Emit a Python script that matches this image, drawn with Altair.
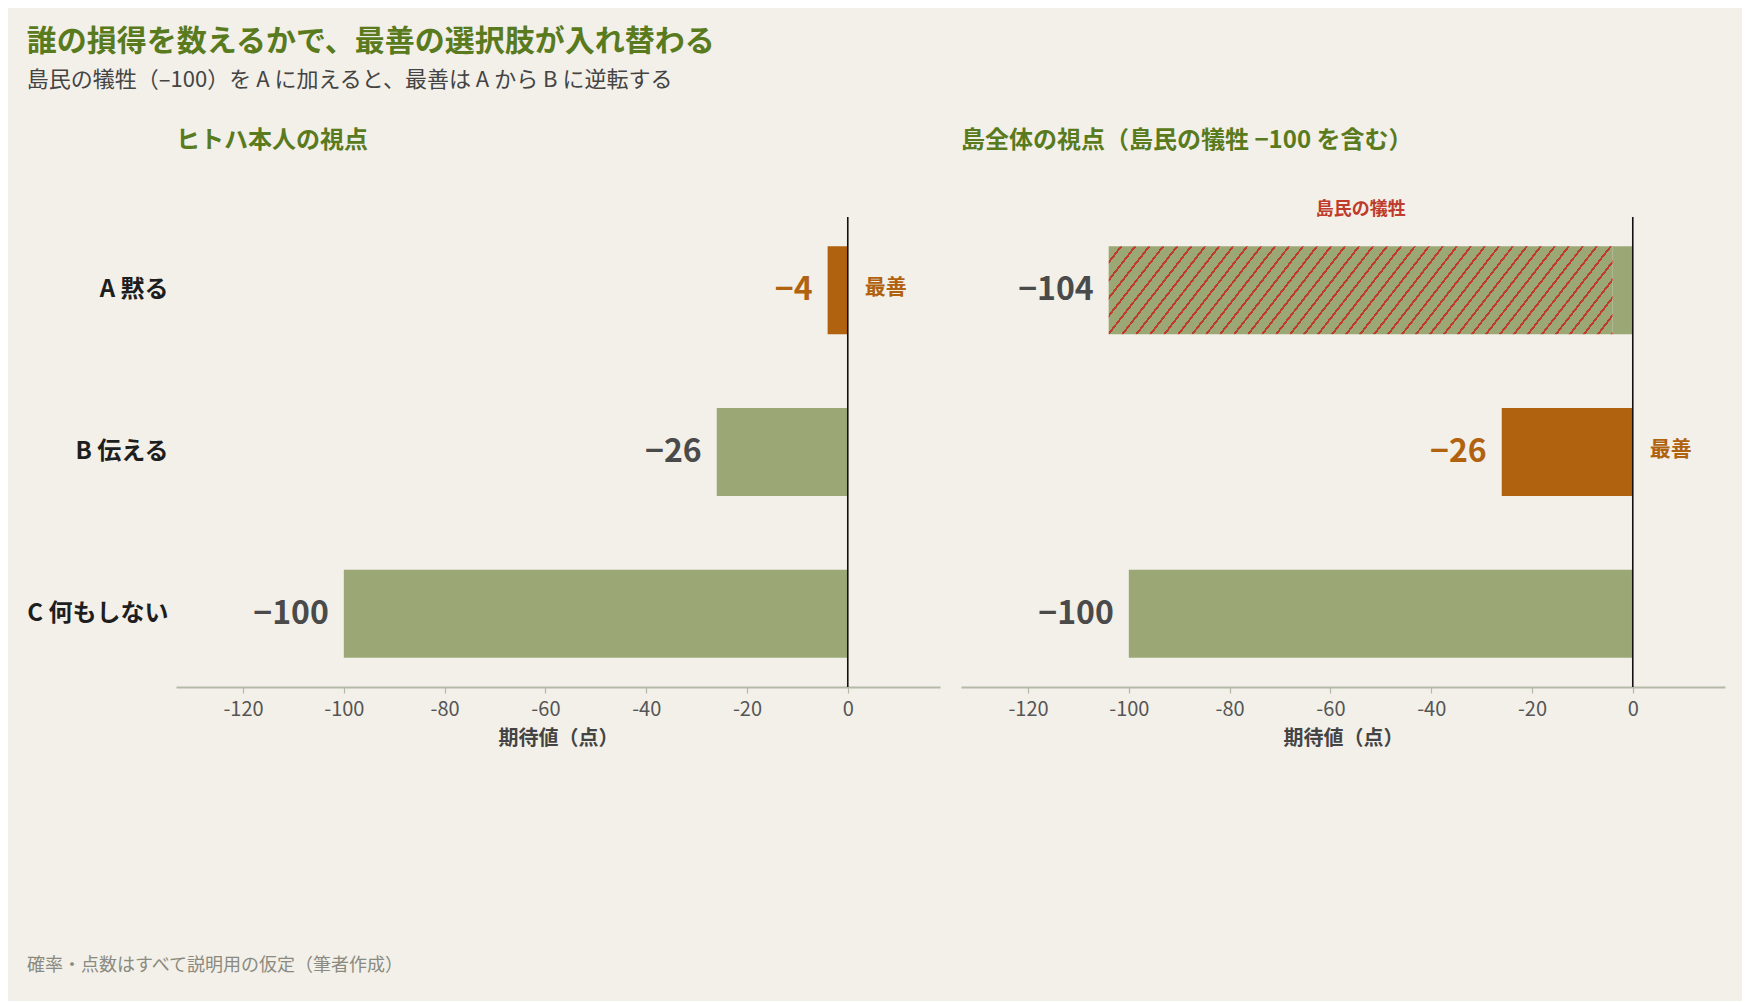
import math
import altair as alt
import pandas as pd

# ---------------- data ----------------
options = ["A 黙る", "B 伝える", "C 何もしない"]
self_value = [-4, -26, -100]          # ヒトハ本人の期待値
island_cost = [-100, 0, 0]            # 島民の犠牲
tick_values = [-120, -100, -80, -60, -40, -20, 0]

title_text = "誰の損得を数えるかで、最善の選択肢が入れ替わる"
subtitle_text = "島民の犠牲（–100）を A に加えると、最善は A から B に逆転する"
left_title = "ヒトハ本人の視点"
right_title = "島全体の視点（島民の犠牲 −100 を含む）"
x_title = "期待値（点）"
best_text = "最善"
cost_text = "島民の犠牲"
footer_text = "確率・点数はすべて説明用の仮定（筆者作成）"

# ---------------- styles ----------------
FONT = "Noto Sans CJK JP"
BG = "#F2F0E9"
GREEN_BAR = "#9BA876"
ORANGE = "#B0620F"
TITLE_GREEN = "#5A7A1E"
RED = "#BF3B2C"
GRAY_LABEL = "#4A4A4A"
AXIS_LINE = "#B4B9A8"
W, H = 764, 470
DOMAIN = [-133.3, 18.3]


def minus(v):
    return "−" + str(abs(v)) if v < 0 else str(v)


total_value = [s + c for s, c in zip(self_value, island_cost)]
best_self = max(self_value)
best_total = max(total_value)

df_left = pd.DataFrame({
    "option": options,
    "value": self_value,
    "label": [minus(v) for v in self_value],
    "best": [v == best_self for v in self_value],
})
df_right = pd.DataFrame({
    "option": options,
    "self": self_value,
    "total": total_value,
    "cost": island_cost,
    "label": [minus(v) for v in total_value],
    "best": [v == best_total for v in total_value],
})
df_zero = pd.DataFrame({"x": [0]})

# hatch pattern as a striped linear gradient (diagonal "/")
seg_w, seg_h = 503.0, 88.0
theta = math.radians(52)
U = seg_w * math.sin(theta) + seg_h * math.cos(theta)
a = seg_w * math.sin(theta) / U
b = seg_h * math.cos(theta) / U
gx, gy = a / (a * a + b * b), b / (a * a + b * b)
period = 11.0 / U
line = 2.0 / U
stops = []
k = 0
while k * period < 1.0:
    s0 = k * period
    stops += [
        alt.GradientStop(offset=min(s0, 1), color=GREEN_BAR),
        alt.GradientStop(offset=min(s0 + period - line, 1), color=GREEN_BAR),
        alt.GradientStop(offset=min(s0 + period - line, 1), color=RED),
        alt.GradientStop(offset=min(s0 + period, 1), color=RED),
    ]
    k += 1
hatch = alt.LinearGradient(gradient="linear", stops=stops, x1=0, y1=0, x2=gx, y2=gy)

y_scale = alt.Scale(domain=options, paddingInner=0.456, paddingOuter=0.18)
x_scale = alt.Scale(domain=DOMAIN, nice=False, zero=False)
x_axis = alt.Axis(
    values=tick_values, title=x_title, grid=False,
    labelExpr="datum.value + ''",
    domainColor=AXIS_LINE, domainWidth=2, tickColor=AXIS_LINE, tickSize=6, tickWidth=1.2,
    labelFont=FONT, labelFontSize=20, labelColor="#555555", labelPadding=6,
    titleFont=FONT, titleFontSize=20, titleFontWeight="bold", titleColor="#444444",
    titlePadding=9,
)
bar_color = alt.condition("datum.best", alt.value(ORANGE), alt.value(GREEN_BAR))
text_color = alt.condition("datum.best", alt.value(ORANGE), alt.value(GRAY_LABEL))
VAL_SIZE = 32

# ---------------- left panel ----------------
lb = alt.Chart(df_left)
left_bars = lb.mark_bar().encode(
    y=alt.Y("option:N", sort=options, scale=y_scale,
            axis=alt.Axis(title=None, domain=False, ticks=False, labelPadding=8,
                          labelFont=FONT, labelFontSize=24, labelFontWeight="bold",
                          labelColor="#1E1E1E")),
    x=alt.X("value:Q", scale=x_scale, axis=x_axis),
    x2=alt.X2(datum=0),
    color=bar_color,
)
left_labels = lb.mark_text(align="right", baseline="middle", dx=-15, font=FONT,
                           fontSize=VAL_SIZE, fontWeight="bold").encode(
    y=alt.Y("option:N", sort=options),
    x=alt.X("value:Q"),
    text="label:N",
    color=text_color,
)
left_best = lb.mark_text(align="left", baseline="middle", dx=17, dy=-2, font=FONT,
                         fontSize=21, fontWeight="bold", color=ORANGE).encode(
    y=alt.Y("option:N", sort=options),
    x=alt.X(datum=0),
    text=alt.value(best_text),
).transform_filter("datum.best")
left_ghost = lb.mark_text(align="center", baseline="middle", dy=-80, font=FONT,
                          fontSize=18, fontWeight="bold", opacity=0).encode(
    y=alt.Y("option:N", sort=options),
    x=alt.X(datum=-54),
    text=alt.value(cost_text),
).transform_filter(alt.datum.option == options[0])
zero_rule = alt.Chart(df_zero).mark_rule(color="#111111", strokeWidth=1.6).encode(x="x:Q")

PANEL_TITLE = dict(anchor="start", frame="group", font=FONT, fontSize=24,
                   fontWeight="bold", color=TITLE_GREEN, offset=48)

left = alt.layer(left_bars, zero_rule, left_labels, left_best, left_ghost).properties(
    width=W, height=H, title=alt.TitleParams(left_title, **PANEL_TITLE),
)

# ---------------- right panel ----------------
rb = alt.Chart(df_right)
right_bars = rb.mark_bar().encode(
    y=alt.Y("option:N", sort=options, scale=y_scale, axis=None),
    x=alt.X("self:Q", scale=x_scale, axis=x_axis),
    x2=alt.X2(datum=0),
    color=bar_color,
)
right_hatch = rb.mark_bar(fill=hatch).encode(
    y=alt.Y("option:N", sort=options),
    x=alt.X("total:Q"),
    x2=alt.X2("self:Q"),
).transform_filter("datum.cost != 0")
right_labels = rb.mark_text(align="right", baseline="middle", dx=-15, font=FONT,
                            fontSize=VAL_SIZE, fontWeight="bold").encode(
    y=alt.Y("option:N", sort=options),
    x=alt.X("total:Q"),
    text="label:N",
    color=text_color,
)
right_best = rb.mark_text(align="left", baseline="middle", dx=17, dy=-2, font=FONT,
                          fontSize=21, fontWeight="bold", color=ORANGE).encode(
    y=alt.Y("option:N", sort=options),
    x=alt.X(datum=0),
    text=alt.value(best_text),
).transform_filter("datum.best")
right_cost = rb.transform_filter("datum.cost != 0").transform_calculate(
    mid="(datum.total + datum.self) / 2"
).mark_text(align="center", baseline="middle", dy=-80, font=FONT,
            fontSize=18, fontWeight="bold", color=RED).encode(
    y=alt.Y("option:N", sort=options),
    x=alt.X("mid:Q"),
    text=alt.value(cost_text),
)

right = alt.layer(right_bars, right_hatch, zero_rule, right_labels, right_best, right_cost).properties(
    width=W, height=H, title=alt.TitleParams(right_title, **PANEL_TITLE),
)

panels = alt.hconcat(left, right, spacing=21)

footer = alt.Chart(pd.DataFrame({"t": [footer_text]})).mark_text(
    align="left", baseline="middle", font=FONT, fontSize=18, color="#8A8A80"
).encode(x=alt.value(-149), y=alt.value(5), text="t:N").properties(width=10, height=10)

chart = alt.vconcat(panels, footer, spacing=209).properties(
    title=alt.TitleParams(
        title_text, subtitle=subtitle_text, anchor="start",
        font=FONT, fontSize=30, fontWeight="bold", color=TITLE_GREEN,
        subtitleFont=FONT, subtitleFontSize=22, subtitleColor="#444444",
        subtitlePadding=13, offset=38,
    ),
    padding={"left": 18, "top": 19, "right": 17, "bottom": 26},
).configure(background=BG).configure_view(stroke=None)

chart.save("out.html", embed_options={"renderer": "svg", "actions": False})
